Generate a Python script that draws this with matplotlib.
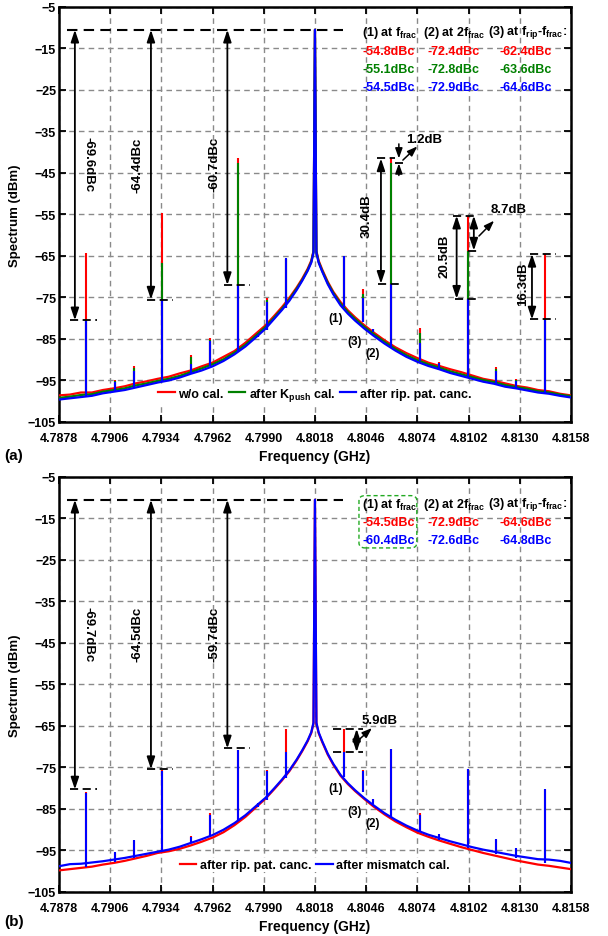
import numpy as np
import matplotlib
matplotlib.use('Agg')
import matplotlib.pyplot as plt
from matplotlib.patches import FancyBboxPatch

plt.rcParams['font.family'] = ['Liberation Sans', 'DejaVu Sans']
plt.rcParams['font.weight'] = 'bold'
plt.rcParams['mathtext.fontset'] = 'custom'
plt.rcParams['mathtext.rm'] = 'Liberation Sans:bold'
plt.rcParams['mathtext.it'] = 'Liberation Sans:bold'
plt.rcParams['mathtext.bf'] = 'Liberation Sans:bold'

RED = '#ff0000'
GREEN = '#008000'
BLUE = '#0000ff'

# axis ticks
x_ticks = [4.7878, 4.7906, 4.7934, 4.7962, 4.7990, 4.8018, 4.8046, 4.8074, 4.8102, 4.8130, 4.8158]
x_tick_labels = ['4.7878', '4.7906', '4.7934', '4.7962', '4.7990', '4.8018',
                 '4.8046', '4.8074', '4.8102', '4.8130', '4.8158']
y_ticks = [-105, -95, -85, -75, -65, -55, -45, -35, -25, -15, -5]

# noise floor / carrier trace (GHz, dBm)
freq = [4.7878, 4.7884, 4.7890, 4.7896, 4.7902, 4.7908, 4.7914, 4.7920, 4.7926, 4.7932,
        4.7938, 4.7944, 4.7950, 4.7956, 4.7962, 4.7968, 4.7974, 4.7980, 4.7986, 4.7991,
        4.7996, 4.8000, 4.8004, 4.8008, 4.8011, 4.8014, 4.8016, 4.80172, 4.8018, 4.80188,
        4.8020, 4.8022, 4.8025, 4.8028, 4.8032, 4.8036, 4.8040, 4.8045, 4.8050, 4.8056,
        4.8062, 4.8068, 4.8074, 4.8080, 4.8086, 4.8092, 4.8098, 4.8104, 4.8110, 4.8116,
        4.8122, 4.8128, 4.8134, 4.8140, 4.8146, 4.8152, 4.8158]

a_red = [-98.6, -98.4, -97.9, -97.9, -97.3, -96.9, -96.4, -95.7, -95.2, -94.6,
         -94.1, -93.3, -92.6, -91.6, -90.7, -89.3, -87.9, -85.9, -83.6, -81.7,
         -79.3, -77.3, -75.1, -72.6, -70.5, -68.1, -66.1, -63.8, -10.5, -63.8,
         -66.1, -68.3, -71.2, -73.6, -76.1, -78.1, -79.8, -81.7, -83.4, -85.3,
         -87.0, -88.4, -89.6, -90.7, -91.5, -92.3, -93.0, -93.8, -94.6, -95.1,
         -95.7, -96.3, -96.7, -97.3, -97.6, -98.2, -98.6]
a_green = [-99.2, -98.9, -98.5, -98.3, -97.7, -97.3, -96.9, -96.2, -95.7, -95.1,
           -94.6, -93.9, -93.0, -92.1, -91.1, -89.9, -88.3, -86.4, -84.1, -82.1,
           -79.7, -77.7, -75.5, -72.9, -70.8, -68.4, -66.4, -64.0, -10.5, -64.0,
           -66.4, -68.6, -71.5, -73.9, -76.5, -78.5, -80.2, -82.1, -83.8, -85.7,
           -87.4, -88.9, -90.1, -91.1, -91.9, -92.8, -93.5, -94.2, -94.9, -95.4,
           -96.1, -96.6, -97.0, -97.6, -97.9, -98.4, -98.8]
a_blue = [-99.6, -99.3, -99.0, -98.7, -98.1, -97.7, -97.3, -96.7, -96.1, -95.5,
          -95.0, -94.3, -93.4, -92.6, -91.6, -90.3, -88.7, -86.8, -84.5, -82.5,
          -80.0, -78.0, -75.8, -73.2, -71.0, -68.6, -66.6, -64.2, -10.5, -64.2,
          -66.6, -68.8, -71.8, -74.2, -76.9, -78.9, -80.6, -82.5, -84.2, -86.1,
          -87.8, -89.3, -90.5, -91.5, -92.3, -93.2, -93.9, -94.6, -95.3, -95.8,
          -96.5, -96.9, -97.4, -97.9, -98.2, -98.7, -99.1]

b_red = [-99.8, -99.5, -99.2, -98.9, -98.4, -98.0, -97.5, -96.9, -96.3, -95.6,
         -95.2, -94.6, -93.8, -92.9, -91.9, -90.6, -88.9, -86.9, -84.5, -82.5,
         -80.1, -78.1, -75.9, -73.3, -71.1, -68.7, -66.7, -64.4, -10.5, -64.4,
         -66.7, -68.9, -71.9, -74.3, -77.0, -79.0, -80.7, -82.6, -84.4, -86.3,
         -88.0, -89.4, -90.7, -91.7, -92.6, -93.4, -94.2, -94.9, -95.6, -96.2,
         -96.8, -97.4, -97.9, -98.4, -98.7, -99.1, -99.5]
b_blue = [-98.8, -98.3, -98.2, -97.9, -97.6, -97.2, -96.8, -96.3, -95.8, -95.3,
          -94.8, -94.1, -93.2, -92.3, -91.3, -90.0, -88.4, -86.5, -84.2, -82.3,
          -79.9, -77.9, -75.7, -73.1, -70.9, -68.5, -66.5, -64.2, -10.5, -64.2,
          -66.5, -68.7, -71.7, -74.1, -76.8, -78.8, -80.5, -82.4, -84.1, -86.0,
          -87.6, -89.0, -90.2, -91.2, -92.0, -92.8, -93.5, -94.2, -94.8, -95.3,
          -95.8, -96.3, -96.7, -97.1, -97.2, -97.5, -98.0]

# spurs: frequency, floor under the spur, peak of each trace
spur_f = [4.78926, 4.79086, 4.79188, 4.79342, 4.79502, 4.79606, 4.79761, 4.79870, 4.79919, 4.80021,
          4.80337, 4.80441, 4.80496, 4.80596, 4.80754, 4.80858, 4.81015, 4.81173, 4.81277, 4.81438]
spur_base = [-98.9, -97.7, -96.7, -95.3, -93.3, -91.6, -87.9, -84.5, -82.8, -77.6,
             -77.3, -80.8, -82.6, -87.2, -90.3, -92.4, -94.4, -95.8, -96.7, -98.0]
a_red_spur = [-64.4, -95.0, -91.6, -54.6, -88.8, -84.8, -41.5, -83.6, -75.1, -65.8,
              -65.3, -73.0, -82.9, -41.5, -82.3, -90.5, -55.3, -91.7, -94.7, -64.5]
a_green_spur = [-80.5, -95.2, -92.0, -66.6, -89.3, -85.2, -42.7, -83.8, -75.5, -65.8,
                -65.6, -74.2, -83.3, -42.7, -83.6, -90.7, -63.7, -92.2, -95.0, -80.3]
a_blue_spur = [-80.6, -95.4, -92.6, -75.6, -91.0, -85.6, -72.0, -84.0, -76.0, -65.6,
               -65.0, -75.2, -83.4, -71.7, -86.0, -90.8, -75.3, -92.6, -95.2, -80.4]
b_red_spur = [-81.0, -95.5, -92.8, -75.5, -91.5, -85.9, -70.9, -83.8, -75.7, -65.8,
              -65.7, -75.6, -83.4, -70.6, -85.9, -91.2, -75.4, -92.4, -94.6, -80.4]
b_blue_spur = [-81.1, -95.3, -92.5, -75.8, -91.7, -86.5, -70.8, -83.6, -75.8, -71.2,
               -71.3, -75.8, -83.7, -70.5, -86.5, -91.0, -75.3, -92.2, -94.3, -80.3]

# tables of spur levels (dBc)
a_table = [['-54.8dBc', '-72.4dBc', '-62.4dBc'],
           ['-55.1dBc', '-72.8dBc', '-63.6dBc'],
           ['-54.5dBc', '-72.9dBc', '-64.6dBc']]
b_table = [['-54.5dBc', '-72.9dBc', '-64.6dBc'],
           ['-60.4dBc', '-72.6dBc', '-64.8dBc']]
headers = [r'(1) at f$_{\mathrm{frac}}$', r'(2) at 2f$_{\mathrm{frac}}$',
           r'(3) at f$_{\mathrm{rip}}$-f$_{\mathrm{frac}}$:']

fig = plt.figure(figsize=(6.08, 9.37), dpi=100)
ax_a = fig.add_axes([0.097, 0.5486, 0.842, 0.4429])
ax_b = fig.add_axes([0.097, 0.0470, 0.842, 0.4429])


def setup(ax, xlab_y):
    ax.set_xlim(4.7878, 4.8158)
    ax.set_ylim(-105, -5)
    ax.set_xticks(x_ticks)
    ax.set_xticklabels(x_tick_labels)
    ax.set_yticks(y_ticks)
    ax.grid(True, color='#8a8a8a', linestyle=(0, (4, 3)), linewidth=1.0)
    ax.tick_params(direction='in', top=True, right=True, length=5, width=1.3,
                   labelsize=9, pad=2)
    ax.tick_params(axis='x', pad=7)
    for s in ax.spines.values():
        s.set_linewidth(1.8)
    ax.set_ylabel('Spectrum (dBm)', fontsize=9.5, fontweight='bold')
    ax.yaxis.set_label_coords(-0.075, 0.5)
    ax.set_xlabel('Frequency (GHz)', fontsize=10, fontweight='bold')
    ax.xaxis.set_label_coords(0.5, xlab_y)


def trace(ax, floor, peaks, color, label):
    ax.plot(freq, floor, color=color, lw=1.6, zorder=3, label=label)
    ax.vlines(spur_f, spur_base, peaks, color=color, lw=1.5, zorder=3)


def darrow(ax, x, y1, y2):
    ax.annotate('', xy=(x, y1), xytext=(x, y2),
                arrowprops=dict(arrowstyle='<|-|>,head_length=0.6,head_width=0.2',
                                color='k', lw=1.3, shrinkA=0, shrinkB=0,
                                mutation_scale=12), zorder=6)


def sarrow(ax, x1, y1, x2, y2):
    ax.annotate('', xy=(x2, y2), xytext=(x1, y1),
                arrowprops=dict(arrowstyle='-|>,head_length=0.5,head_width=0.18',
                                color='k', lw=1.1, shrinkA=0, shrinkB=0,
                                mutation_scale=12), zorder=6)


def hdash(ax, x1, x2, y):
    ax.plot([x1, x2], [y, y], color='k', lw=1.3, dashes=(4.5, 2.5), zorder=6)


def big_arrows(ax, ends, labels, rots):
    ax.plot([4.78824, 4.80333], [-10.5, -10.5], color='k', lw=1.5, dashes=(5, 3), zorder=6)
    xs = [4.78867, 4.79283, 4.79701]
    dashx = [(4.78840, 4.78988), (4.79261, 4.79403), (4.79682, 4.79824)]
    labx = [4.78939, 4.79207, 4.79633]
    for x, e, d, lx, t, r in zip(xs, ends, dashx, labx, labels, rots):
        darrow(ax, x, -10.5, e)
        hdash(ax, d[0], d[1], e)
        ax.text(lx, -42.8, t, rotation=r, ha='center', va='center', fontsize=9.5, zorder=6)


def table(ax, rows, colors, ys):
    hx = [0.592, 0.711, 0.838]
    vx = [0.592, 0.719, 0.861]
    for t, x in zip(headers, hx):
        ax.text(x, ys[0], t, transform=ax.transAxes, fontsize=9, va='center', ha='left', zorder=7)
    for row, c, y in zip(rows, colors, ys[1:]):
        for t, x in zip(row, vx):
            ax.text(x, y, t, transform=ax.transAxes, fontsize=9, va='center', ha='left',
                    color=c, zorder=7)


def order_labels(ax):
    ax.text(4.80295, -80.0, '(1)', fontsize=8.5, ha='center', va='center', zorder=6)
    ax.text(4.80395, -85.6, '(3)', fontsize=8.5, ha='center', va='center', zorder=6)
    ax.text(4.80493, -88.4, '(2)', fontsize=8.5, ha='center', va='center', zorder=6)


# ---------------- panel (a) ----------------
setup(ax_a, -0.065)
trace(ax_a, a_red, a_red_spur, RED, 'w/o cal.')
trace(ax_a, a_green, a_green_spur, GREEN, r'after K$_{\mathrm{push}}$ cal.')
trace(ax_a, a_blue, a_blue_spur, BLUE, 'after rip. pat. canc.')
big_arrows(ax_a, [-80.5, -75.5, -72.0], ['-69.6dBc', '-64.4dBc', '-60.7dBc'], [270, 90, 90])

# 30.4dB / 1.2dB
darrow(ax_a, 4.80541, -41.5, -71.7)
hdash(ax_a, 4.80519, 4.80617, -41.5)
hdash(ax_a, 4.80525, 4.80661, -71.7)
ax_a.text(4.80464, -55.1, '30.4dB', rotation=90, ha='center', va='center', fontsize=9.5, zorder=6)
sarrow(ax_a, 4.80639, -38.0, 4.80639, -41.5)
sarrow(ax_a, 4.80639, -45.6, 4.80639, -42.7)
hdash(ax_a, 4.80617, 4.80661, -42.7)
sarrow(ax_a, 4.80661, -41.9, 4.80740, -38.6)
ax_a.text(4.80778, -36.8, '1.2dB', ha='center', va='center', fontsize=9.5, zorder=6)

# 20.5dB / 8.7dB
darrow(ax_a, 4.80955, -55.3, -75.3)
hdash(ax_a, 4.80935, 4.81071, -55.3)
hdash(ax_a, 4.80945, 4.81071, -75.3)
ax_a.text(4.80891, -64.8, '20.5dB', rotation=90, ha='center', va='center', fontsize=9.5, zorder=6)
darrow(ax_a, 4.81049, -55.3, -63.7)
hdash(ax_a, 4.81017, 4.81077, -63.7)
sarrow(ax_a, 4.81077, -60.2, 4.81160, -56.5)
ax_a.text(4.81237, -53.7, '8.7dB', ha='center', va='center', fontsize=9.5, zorder=6)

# 16.3dB
darrow(ax_a, 4.81367, -64.5, -80.3)
hdash(ax_a, 4.81356, 4.81498, -64.5)
hdash(ax_a, 4.81356, 4.81498, -80.3)
ax_a.text(4.81318, -71.5, '16.3dB', rotation=90, ha='center', va='center', fontsize=9.5, zorder=6)

order_labels(ax_a)
table(ax_a, a_table, [RED, GREEN, BLUE], [0.940, 0.894, 0.851, 0.807])
leg = ax_a.legend(loc='center', bbox_to_anchor=(0.5, 0.067), ncol=3, fontsize=9,
                  handlelength=1.3, handletextpad=0.3, columnspacing=0.4,
                  borderpad=0.1, frameon=True, fancybox=False)
leg.get_frame().set_edgecolor('none')
leg.get_frame().set_alpha(1)
leg.set_zorder(8)

# ---------------- panel (b) ----------------
setup(ax_b, -0.065)
trace(ax_b, b_red, b_red_spur, RED, 'after rip. pat. canc.')
trace(ax_b, b_blue, b_blue_spur, BLUE, 'after mismatch cal.')
big_arrows(ax_b, [-80.3, -75.4, -70.4], ['-69.7dBc', '-64.5dBc', '-59.7dBc'], [270, 90, 90])

# 5.9dB
hdash(ax_b, 4.80278, 4.80442, -65.7)
hdash(ax_b, 4.80278, 4.80442, -71.3)
darrow(ax_b, 4.80408, -65.7, -71.3)
sarrow(ax_b, 4.80426, -68.1, 4.80492, -65.5)
ax_b.text(4.80532, -63.6, '5.9dB', ha='center', va='center', fontsize=9.5, zorder=6)

order_labels(ax_b)
table(ax_b, b_table, [RED, BLUE], [0.935, 0.892, 0.848])
box = FancyBboxPatch((0.586, 0.829), 0.113, 0.126, transform=ax_b.transAxes,
                     boxstyle='round,pad=0,rounding_size=0.012', fill=False,
                     edgecolor='#22aa22', linestyle=(0, (3, 2)), lw=1.0, zorder=7)
ax_b.add_patch(box)
leg = ax_b.legend(loc='center', bbox_to_anchor=(0.5, 0.065), ncol=2, fontsize=9,
                  handlelength=1.3, handletextpad=0.3, columnspacing=0.4,
                  borderpad=0.1, frameon=True, fancybox=False)
leg.get_frame().set_edgecolor('none')
leg.get_frame().set_alpha(1)
leg.set_zorder(8)

fig.text(14 / 608, 1 - 456 / 937, '(a)', fontsize=11, ha='center', va='center')
fig.text(14 / 608, 1 - 922 / 937, '(b)', fontsize=11, ha='center', va='center')

fig.savefig('out.png', dpi=100)
